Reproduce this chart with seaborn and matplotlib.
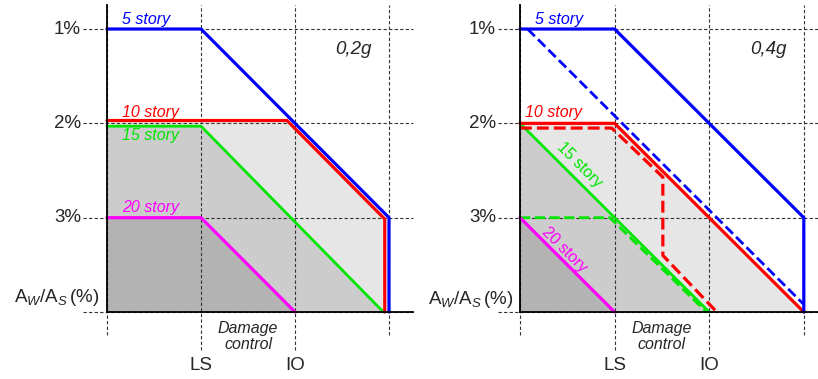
import matplotlib
matplotlib.use("Agg")
import matplotlib.pyplot as plt
import pandas as pd
import seaborn as sns

sns.set_style("white")
plt.rcParams["font.family"] = ["Liberation Sans", "DejaVu Sans"]
plt.rcParams["mathtext.fontset"] = "custom"
plt.rcParams["mathtext.rm"] = "Liberation Sans"
plt.rcParams["mathtext.it"] = "Liberation Sans:italic"

# Performance levels along x, wall-area ratio levels along y
x_levels = [0, 1, 2, 3]
x_labels = ["", "LS", "IO", ""]
y_levels = [3, 2, 1, 0]
y_labels = ["1%", "2%", "3%", r"A$_{\mathit{W}}$/A$_{\mathit{S}}$$\,$(%)"]

# 0,2g : boundary of each building height
g02_s5_x = [0, 1, 3, 3]
g02_s5_y = [3, 3, 1, 0]
g02_s10_x = [0, 1.915, 2.955, 2.955]
g02_s10_y = [2.03, 2.03, 0.985, 0]
g02_s15_x = [0, 1, 2.94]
g02_s15_y = [1.97, 1.97, 0]
g02_s20_x = [0, 1, 2]
g02_s20_y = [1, 1, 0]

# 0,4g : solid and dashed boundaries
g04_s5_x = [0, 1, 3, 3]
g04_s5_y = [3, 3, 1, 0]
g04_s5d_x = [0.08, 3]
g04_s5d_y = [3, 0.08]
g04_s10_x = [0, 1, 3]
g04_s10_y = [2, 2, 0]
g04_s10d_x = [0, 0.97, 1.51, 1.51, 2.08]
g04_s10d_y = [1.95, 1.95, 1.43, 0.6, 0]
g04_s15_x = [0, 2]
g04_s15_y = [2, 0]
g04_s15d_x = [0, 0.95, 1.97]
g04_s15d_y = [1.0, 1.0, 0]
g04_s20_x = [0, 1]
g04_s20_y = [1, 0]

BLUE, RED, GREEN, MAGENTA = "#0000ff", "#ff0000", "#00e600", "#ff00ff"
LIGHT, MID, DARK = "#e6e6e6", "#cccccc", "#b3b3b3"
GRID = "#333333"

fig = plt.figure(figsize=(8.18, 3.79), dpi=100)
W, H = 818, 379
ax_l = fig.add_axes([107 / W, 67 / H, 306 / W, 307 / H])
ax_r = fig.add_axes([520 / W, 67 / H, 298 / W, 307 / H])
ax_l.set_xlim(0, 306 / 94.0)
ax_r.set_xlim(0, 298 / 94.6)
YTOP = 307 / 94.33
for ax in (ax_l, ax_r):
    ax.set_ylim(0, YTOP)


def curve(ax, xs, ys, color, dashed=False, lw=2.3):
    df = pd.DataFrame({"x": xs, "y": ys})
    sns.lineplot(data=df, x="x", y="y", sort=False, estimator=None,
                 color=color, lw=lw, ax=ax, zorder=4,
                 linestyle="--" if dashed else "-",
                 solid_joinstyle="miter", clip_on=False)


def region(ax, xs, ys, color):
    ax.fill(list(xs) + [0], list(ys) + [0], color=color, lw=0, zorder=1)


def frame(ax, label_x, axis_label_x, axis_label_y, tag):
    xmax = ax.get_xlim()[1]
    for i, yv in enumerate(y_levels):
        ax.plot([label_x + 0.02, xmax], [yv, yv], color=GRID, lw=0.8,
                dashes=(3, 2), zorder=2, clip_on=False)
        if i < 3:
            ax.text(label_x, yv, y_labels[i], ha="right", va="center",
                    fontsize=13.5)
    ax.text(axis_label_x, axis_label_y, y_labels[3], ha="right",
            va="center", fontsize=13.5)
    for xv, lab in zip(x_levels, x_labels):
        low = -0.40 if lab else -0.245
        ax.plot([xv, xv], [low, YTOP], color=GRID, lw=0.8, dashes=(3, 2),
                zorder=2, clip_on=False)
        if lab:
            ax.text(xv, -0.57, lab, ha="center", va="center", fontsize=13.5)
    ax.text(1.5, -0.17, "Damage", ha="center", va="center", fontsize=11.5,
            style="italic")
    ax.text(1.5, -0.34, "control", ha="center", va="center", fontsize=11.5,
            style="italic")
    ax.text(2.43, 2.78, tag, ha="left", va="center", fontsize=13.5,
            style="italic")
    ax.set_xticks([])
    ax.set_yticks([])
    ax.set_xlabel("")
    ax.set_ylabel("")
    for side in ("top", "right"):
        ax.spines[side].set_visible(False)
    for side in ("left", "bottom"):
        ax.spines[side].set_color("black")
        ax.spines[side].set_linewidth(1.3)
        ax.spines[side].set_zorder(5)


# ---- 0,2g panel ----
region(ax_l, g02_s10_x, g02_s10_y, LIGHT)
region(ax_l, g02_s15_x, g02_s15_y, MID)
region(ax_l, g02_s20_x, g02_s20_y, DARK)
frame(ax_l, -0.277, -0.085, 0.15, "0,2g")
curve(ax_l, g02_s15_x, g02_s15_y, GREEN, lw=2.0)
curve(ax_l, g02_s20_x, g02_s20_y, MAGENTA)
curve(ax_l, g02_s10_x, g02_s10_y, RED)
curve(ax_l, g02_s5_x, g02_s5_y, BLUE)
lab_kw = dict(ha="left", va="center", fontsize=11.5, style="italic")
ax_l.text(0.16, 3.106, "5 story", color=BLUE, **lab_kw)
ax_l.text(0.16, 2.11, "10 story", color=RED, **lab_kw)
ax_l.text(0.16, 1.875, "15 story", color=GREEN, **lab_kw)
ax_l.text(0.16, 1.11, "20 story", color=MAGENTA, **lab_kw)

# ---- 0,4g panel ----
region(ax_r, g04_s10_x, g04_s10_y, LIGHT)
region(ax_r, g04_s15_x, g04_s15_y, MID)
region(ax_r, g04_s20_x, g04_s20_y, DARK)
frame(ax_r, -0.254, -0.074, 0.13, "0,4g")
curve(ax_r, g04_s15d_x, g04_s15d_y, GREEN, dashed=True, lw=2.0)
curve(ax_r, g04_s15_x, g04_s15_y, GREEN, lw=2.0)
curve(ax_r, g04_s20_x, g04_s20_y, MAGENTA)
curve(ax_r, g04_s10d_x, g04_s10d_y, RED, dashed=True)
curve(ax_r, g04_s10_x, g04_s10_y, RED)
curve(ax_r, g04_s5d_x, g04_s5d_y, BLUE, dashed=True, lw=2.0)
curve(ax_r, g04_s5_x, g04_s5_y, BLUE)
ax_r.text(0.16, 3.106, "5 story", color=BLUE, **lab_kw)
ax_r.text(0.05, 2.12, "10 story", color=RED, **lab_kw)
rot_kw = dict(ha="center", va="center", fontsize=11.5, rotation=-45,
              rotation_mode="anchor")
ax_r.text(0.63, 1.56, "15 story", color=GREEN, **rot_kw)
ax_r.text(0.466, 0.663, "20 story", color=MAGENTA, **rot_kw)

fig.savefig("out.png", dpi=100)
